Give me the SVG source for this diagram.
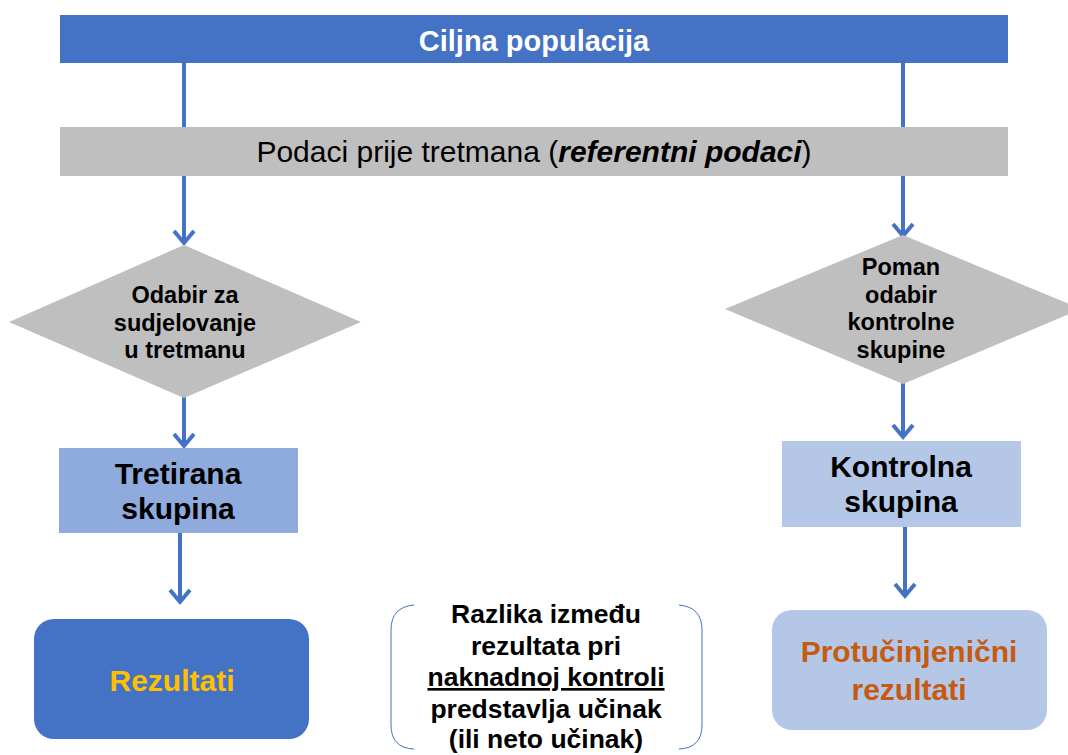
<svg xmlns="http://www.w3.org/2000/svg" width="1068" height="755" viewBox="0 0 1068 755">
<style>
text{font-family:"Liberation Sans",Arial,sans-serif;text-anchor:middle}
.b{font-weight:bold}
.conn{stroke:#4472C4;stroke-width:4;fill:none}
.dia{fill:#BFBFBF}
.dt{font-size:23.5px;font-weight:bold;fill:#000}
.bt{font-size:30px;font-weight:bold}
.mt{font-size:26.5px;font-weight:bold;fill:#000}
</style>
<defs>
<marker id="ah" markerUnits="userSpaceOnUse" viewBox="-13 -12 26 24" markerWidth="26" markerHeight="24" refX="0" refY="0" orient="auto">
<path d="M-12,-10 L0,0 L-12,10" fill="none" stroke="#4472C4" stroke-width="4" stroke-linejoin="miter"/>
</marker>
</defs>
<g id="connectors">
<line class="conn" x1="184" y1="63" x2="184" y2="243" marker-end="url(#ah)"/>
<line class="conn" x1="903" y1="63" x2="903" y2="236" marker-end="url(#ah)"/>
<line class="conn" x1="184" y1="396" x2="184" y2="446" marker-end="url(#ah)"/>
<line class="conn" x1="903" y1="383" x2="903" y2="437" marker-end="url(#ah)"/>
<line class="conn" x1="180" y1="533" x2="180" y2="602" marker-end="url(#ah)"/>
<line class="conn" x1="905" y1="527" x2="905" y2="596" marker-end="url(#ah)"/>
</g>
<g id="ciljna">
<rect x="60" y="15" width="948" height="48" fill="#4472C4"/>
<text x="534" y="51" class="b" font-size="29" fill="#fff">Ciljna populacija</text>
</g>
<g id="podaci">
<rect x="60" y="127" width="948" height="49" fill="#BFBFBF"/>
<text x="534" y="162" font-size="30" fill="#000">Podaci prije tretmana (<tspan font-weight="bold" font-style="italic">referentni podaci</tspan>)</text>
</g>
<g id="odabir">
<polygon class="dia" points="184,245 361,322 184,398 9,322"/>
<text class="dt" x="185" y="303">Odabir za</text>
<text class="dt" x="185" y="331">sudjelovanje</text>
<text class="dt" x="185" y="358">u tretmanu</text>
</g>
<g id="poman">
<polygon class="dia" points="903,235 1081,309 903,384 725,309"/>
<text class="dt" x="901" y="275">Poman</text>
<text class="dt" x="901" y="303">odabir</text>
<text class="dt" x="901" y="330">kontrolne</text>
<text class="dt" x="901" y="358">skupine</text>
</g>
<g id="tretirana">
<rect x="59" y="448" width="239" height="85" fill="#8FAADC"/>
<text class="bt" x="178" y="484">Tretirana</text>
<text class="bt" x="178" y="519">skupina</text>
</g>
<g id="kontrolna">
<rect x="782" y="441" width="239" height="86" fill="#B4C7E7"/>
<text class="bt" x="901" y="477">Kontrolna</text>
<text class="bt" x="901" y="512">skupina</text>
</g>
<g id="rezultati">
<rect x="34" y="619" width="275" height="120" rx="20" fill="#4472C4"/>
<text class="bt" x="172" y="691" fill="#FFC000">Rezultati</text>
</g>
<g id="protucinjenicni">
<rect x="772" y="610" width="275" height="120" rx="20" fill="#B4C7E7"/>
<text class="bt" x="909" y="662" fill="#C55A11">Protučinjenični</text>
<text class="bt" x="909" y="700" fill="#C55A11">rezultati</text>
</g>
<g id="razlika">
<path d="M414,605 Q391,607 391,630 L391,725 Q391,748 414,749" fill="none" stroke="#4472C4" stroke-width="1"/>
<path d="M679,605 Q702,607 702,630 L702,725 Q702,748 679,749" fill="none" stroke="#4472C4" stroke-width="1"/>
<text class="mt" x="546" y="623">Razlika između</text>
<text class="mt" x="546" y="655">rezultata pri</text>
<text class="mt" x="546" y="686" text-decoration="underline">naknadnoj kontroli</text>
<text class="mt" x="546" y="718">predstavlja učinak</text>
<text class="mt" x="546" y="748">(ili neto učinak)</text>
</g>
</svg>
